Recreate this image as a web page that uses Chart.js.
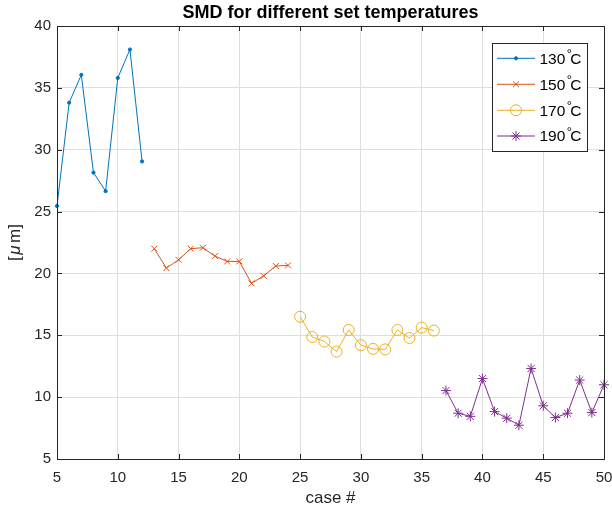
<!DOCTYPE html>
<html>
<head>
<meta charset="utf-8">
<script src="https://cdn.jsdelivr.net/npm/chart.js@4/dist/chart.umd.min.js"></script>
<style>
  html, body { margin: 0; padding: 0; background: #fff; }
  #wrap { width: 612px; height: 514px; }
</style>
</head>
<body>
<div id="wrap"><canvas id="c" width="612" height="514"></canvas></div>
<script>
// ---- data ----
const chartTitle = 'SMD for different set temperatures';
const xLabel = 'case #';
const yLabelParts = ['[', '\u03BC', 'm]'];
const seriesNames = ['130', '150', '170', '190'];

const x130 = [5, 6, 7, 8, 9, 10, 11, 12];
const y130 = [25.45, 33.8, 36.05, 28.15, 26.65, 35.8, 38.1, 29.05];

const x150 = [13, 14, 15, 16, 17, 18, 19, 20, 21, 22, 23, 24];
const y150 = [22.0, 20.43, 21.1, 22.0, 22.08, 21.4, 20.97, 20.97, 19.2, 19.8, 20.6, 20.65];

const x170 = [25, 26, 27, 28, 29, 30, 31, 32, 33, 34, 35, 36];
const y170 = [16.5, 14.86, 14.5, 13.68, 15.43, 14.2, 13.9, 13.86, 15.43, 14.78, 15.62, 15.38];

const x190 = [37, 38, 39, 40, 41, 42, 43, 44, 45, 46, 47, 48, 49, 50];
const y190 = [10.53, 8.7, 8.45, 11.5, 8.83, 8.3, 7.73, 12.32, 9.3, 8.35, 8.7, 11.38, 8.75, 11.0];

const xTicks = [5, 10, 15, 20, 25, 30, 35, 40, 45, 50];
const yTicks = [5, 10, 15, 20, 25, 30, 35, 40];

// ---- styles ----
const FONT = '"Liberation Sans", Arial, Helvetica, sans-serif';
const AX = '#262626';
const GRID = '#dedede';
const colors = ['#0072BD', '#D95319', '#EDB120', '#7E2F8E'];
const styles = [
  { pointStyle: 'circle', radius: 1.6, fill: true },
  { pointStyle: 'crossRot', radius: 4.2, fill: false },
  { pointStyle: 'circle', radius: 5.5, fill: false },
  { pointStyle: 'star', radius: 5, fill: false }
];
const xs = [x130, x150, x170, x190];
const ys = [y130, y150, y170, y190];

const datasets = seriesNames.map((n, i) => ({
  label: n + '\u00B0C',
  data: xs[i].map((x, j) => ({ x: x, y: ys[i][j] })),
  borderColor: colors[i],
  backgroundColor: styles[i].fill ? colors[i] : 'rgba(0,0,0,0)',
  pointBorderColor: colors[i],
  pointBackgroundColor: styles[i].fill ? colors[i] : 'rgba(0,0,0,0)',
  pointStyle: styles[i].pointStyle,
  pointRadius: styles[i].radius,
  pointHoverRadius: styles[i].radius,
  pointBorderWidth: 1,
  borderWidth: 1,
  tension: 0,
  fill: false,
  clip: false
}));

const matlabPlugin = {
  id: 'matlab',
  afterDraw(chart) {
    const ctx = chart.ctx;
    const a = chart.chartArea;
    const xs_ = chart.scales.x, ys_ = chart.scales.y;
    ctx.save();
    // box
    ctx.strokeStyle = AX;
    ctx.lineWidth = 1;
    ctx.beginPath();
    ctx.moveTo(a.left + 0.5, a.bottom + 0.5);
    ctx.lineTo(a.left + 0.5, a.top + 0.5);
    ctx.lineTo(a.right + 0.5, a.top + 0.5);
    ctx.lineTo(a.right + 0.5, a.bottom + 0.5);
    ctx.lineTo(a.left + 0.5, a.bottom + 0.5);
    ctx.stroke();
    // inward ticks
    const tl = 5;
    ctx.beginPath();
    xTicks.forEach(v => {
      const px = Math.round(xs_.getPixelForValue(v)) + 0.5;
      ctx.moveTo(px, a.bottom); ctx.lineTo(px, a.bottom - tl);
      ctx.moveTo(px, a.top); ctx.lineTo(px, a.top + tl);
    });
    yTicks.forEach(v => {
      const py = Math.round(ys_.getPixelForValue(v)) + 0.5;
      ctx.moveTo(a.left, py); ctx.lineTo(a.left + tl, py);
      ctx.moveTo(a.right, py); ctx.lineTo(a.right - tl, py);
    });
    ctx.stroke();

    // title
    ctx.fillStyle = '#000';
    ctx.font = 'bold 18px ' + FONT;
    ctx.textAlign = 'center';
    ctx.textBaseline = 'middle';
    ctx.fillText(chartTitle, (a.left + a.right) / 2, 13);

    // axis labels
    ctx.fillStyle = AX;
    ctx.font = '17px ' + FONT;
    ctx.fillText(xLabel, (a.left + a.right) / 2, 498);
    ctx.save();
    ctx.translate(15, (a.top + a.bottom) / 2);
    ctx.rotate(-Math.PI / 2);
    ctx.textAlign = 'left';
    const fonts = ['17px ' + FONT, 'italic 17px ' + FONT, '17px ' + FONT];
    const gaps = [1.5, 2.5, 0];
    let total = 0;
    yLabelParts.forEach((p, k) => { ctx.font = fonts[k]; total += ctx.measureText(p).width + gaps[k]; });
    let cx = -total / 2;
    yLabelParts.forEach((p, k) => {
      ctx.font = fonts[k];
      ctx.fillText(p, cx, 0);
      cx += ctx.measureText(p).width + gaps[k];
    });
    ctx.restore();

    // legend
    const L = 492.5, T = 43.5, R = 587.5, B = 151.5;
    ctx.fillStyle = '#fff';
    ctx.fillRect(L, T, R - L, B - T);
    ctx.strokeStyle = AX;
    ctx.lineWidth = 1;
    ctx.strokeRect(L, T, R - L, B - T);
    const rows = [58.3, 84.3, 110.3, 136];
    chart.data.datasets.forEach((ds, i) => {
      const y = rows[i];
      ctx.strokeStyle = ds.borderColor;
      ctx.lineWidth = 1;
      ctx.beginPath();
      ctx.moveTo(497, y); ctx.lineTo(535, y);
      ctx.stroke();
      ctx.fillStyle = ds.pointBackgroundColor;
      ctx.strokeStyle = ds.pointBorderColor;
      Chart.helpers.drawPoint(ctx, {
        pointStyle: ds.pointStyle, radius: ds.pointRadius, borderWidth: 1
      }, 516, y);
      // label with superscript degree
      ctx.fillStyle = '#000';
      ctx.textAlign = 'left';
      ctx.textBaseline = 'middle';
      ctx.font = '15.5px ' + FONT;
      const num = seriesNames[i];
      ctx.fillText(num, 539.5, y + 1);
      const w = ctx.measureText(num).width;
      ctx.font = '13px ' + FONT;
      ctx.fillText('\u00B0', 539.5 + w + 1.5, y - 4);
      ctx.font = '15.5px ' + FONT;
      ctx.fillText('C', 539.5 + w + 5, y + 1);
    });
    ctx.restore();
  }
};

new Chart(document.getElementById('c'), {
  type: 'line',
  data: { datasets: datasets },
  options: {
    responsive: false,
    animation: false,
    events: [],
    layout: { padding: { left: 0, right: 8, top: 26, bottom: 0 } },
    plugins: { legend: { display: false }, title: { display: false }, tooltip: { enabled: false } },
    scales: {
      x: {
        type: 'linear',
        min: 5, max: 50,
        afterBuildTicks: s => { s.ticks = xTicks.map(v => ({ value: v })); },
        afterFit: s => { s.height = 55; s.paddingLeft = 0; s.paddingRight = 0; },
        grid: { color: GRID, drawTicks: false, lineWidth: 1 },
        border: { display: true, color: AX },
        ticks: { color: AX, font: { family: FONT, size: 15 }, padding: 10, maxRotation: 0 }
      },
      y: {
        type: 'linear',
        min: 5, max: 40,
        afterBuildTicks: s => { s.ticks = yTicks.map(v => ({ value: v })); },
        afterFit: s => { s.width = 57; s.paddingTop = 0; s.paddingBottom = 0; },
        grid: { color: GRID, drawTicks: false, lineWidth: 1 },
        border: { display: true, color: AX },
        ticks: { color: AX, font: { family: FONT, size: 15 }, padding: 6 }
      }
    }
  },
  plugins: [matlabPlugin]
});
</script>
</body>
</html>
